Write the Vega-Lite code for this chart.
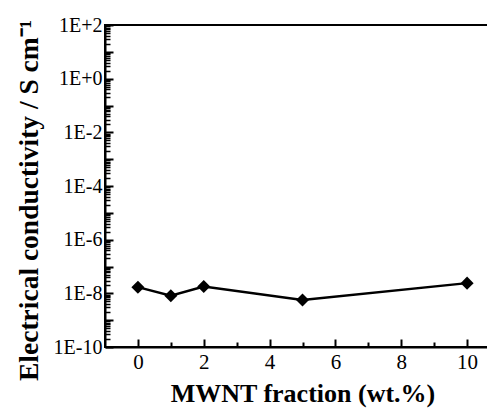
{
  "$schema": "https://vega.github.io/schema/vega-lite/v6.json",
  "width": 395,
  "height": 322,
  "autosize": {"type": "none"},
  "padding": {"left": 105, "top": 25, "right": 0, "bottom": 61},
  "background": "white",
  "config": {
    "view": {"stroke": "black", "strokeWidth": 2},
    "style": {
      "guide-label": {"font": "Liberation Serif", "fontSize": 20, "fill": "black"},
      "guide-title": {"font": "Liberation Serif", "fontSize": 26, "fontWeight": "bold", "fill": "black"}
    },
    "axis": {
      "domainColor": "black", "domainWidth": 2,
      "tickColor": "black", "tickWidth": 2,
      "labelFont": "Liberation Serif", "labelFontSize": 20, "labelColor": "black",
      "titleFont": "Liberation Serif", "titleFontSize": 26, "titleFontWeight": "bold", "titleColor": "black",
      "grid": false, "labelOverlap": false, "labelFlush": false, "labelBound": false
    }
  },
  "data": {"values": [
    {"wt": 0, "sigma": 1.7e-8},
    {"wt": 1, "sigma": 0.82e-8},
    {"wt": 2, "sigma": 1.8e-8},
    {"wt": 5, "sigma": 0.56e-8},
    {"wt": 10, "sigma": 2.4e-8}
  ]},
  "layer": [
    {
      "mark": {"type": "line", "color": "black", "strokeWidth": 2.5},
      "encoding": {
        "x": {"field": "wt", "type": "quantitative",
          "scale": {"domain": [-1, 11], "nice": false, "zero": false},
          "axis": {"values": [0, 2, 4, 6, 8, 10], "tickSize": -8, "labelPadding": 12,
            "labelFont": "Liberation Serif", "labelFontSize": 21,
            "title": "MWNT fraction (wt.%)", "titleFont": "Liberation Serif", "titleFontSize": 26, "titleY": 54, "titleBaseline": "alphabetic"}},
        "y": {"field": "sigma", "type": "quantitative",
          "scale": {"type": "log", "domain": [1e-10, 100], "nice": false},
          "axis": {"values": [1e-10, 1e-9, 1e-8, 1e-7, 1e-6, 1e-5, 1e-4, 1e-3, 1e-2, 1e-1, 1, 10, 100],
            "tickSize": -8, "labelPadding": 11,
            "labelFont": "Liberation Serif", "labelFontSize": 20,
            "labelExpr": "(round(log(datum.value)/LN10) % 2 == 0) ? ('1E' + (round(log(datum.value)/LN10) >= 0 ? '+' : '') + round(log(datum.value)/LN10)) : ''",
            "title": "Electrical conductivity / S cm⁻¹", "titleFont": "Liberation Serif", "titleFontSize": 27.5, "titleX": -68, "titleY": 175, "titleAlign": "center", "titleBaseline": "alphabetic"}}
      }
    },
    {
      "mark": {"type": "point", "shape": "diamond", "filled": true, "color": "black", "size": 170, "opacity": 1},
      "encoding": {
        "x": {"field": "wt", "type": "quantitative",
          "axis": {"orient": "bottom", "values": [1, 3, 5, 7, 9], "tickSize": -5, "labels": false, "title": null, "domain": false}},
        "y": {"field": "sigma", "type": "quantitative",
          "axis": {"orient": "left", "values": [
            2e-10, 3e-10, 4e-10, 5e-10, 6e-10, 7e-10, 8e-10, 9e-10,
            2e-9, 3e-9, 4e-9, 5e-9, 6e-9, 7e-9, 8e-9, 9e-9,
            2e-8, 3e-8, 4e-8, 5e-8, 6e-8, 7e-8, 8e-8, 9e-8,
            2e-7, 3e-7, 4e-7, 5e-7, 6e-7, 7e-7, 8e-7, 9e-7,
            2e-6, 3e-6, 4e-6, 5e-6, 6e-6, 7e-6, 8e-6, 9e-6,
            2e-5, 3e-5, 4e-5, 5e-5, 6e-5, 7e-5, 8e-5, 9e-5,
            2e-4, 3e-4, 4e-4, 5e-4, 6e-4, 7e-4, 8e-4, 9e-4,
            2e-3, 3e-3, 4e-3, 5e-3, 6e-3, 7e-3, 8e-3, 9e-3,
            2e-2, 3e-2, 4e-2, 5e-2, 6e-2, 7e-2, 8e-2, 9e-2,
            0.2, 0.3, 0.4, 0.5, 0.6, 0.7, 0.8, 0.9,
            2, 3, 4, 5, 6, 7, 8, 9,
            20, 30, 40, 50, 60, 70, 80, 90],
            "tickSize": -5, "tickWidth": 1.5, "labels": false, "title": null, "domain": false}}
      }
    }
  ],
  "resolve": {"axis": {"x": "independent", "y": "independent"}}
}
